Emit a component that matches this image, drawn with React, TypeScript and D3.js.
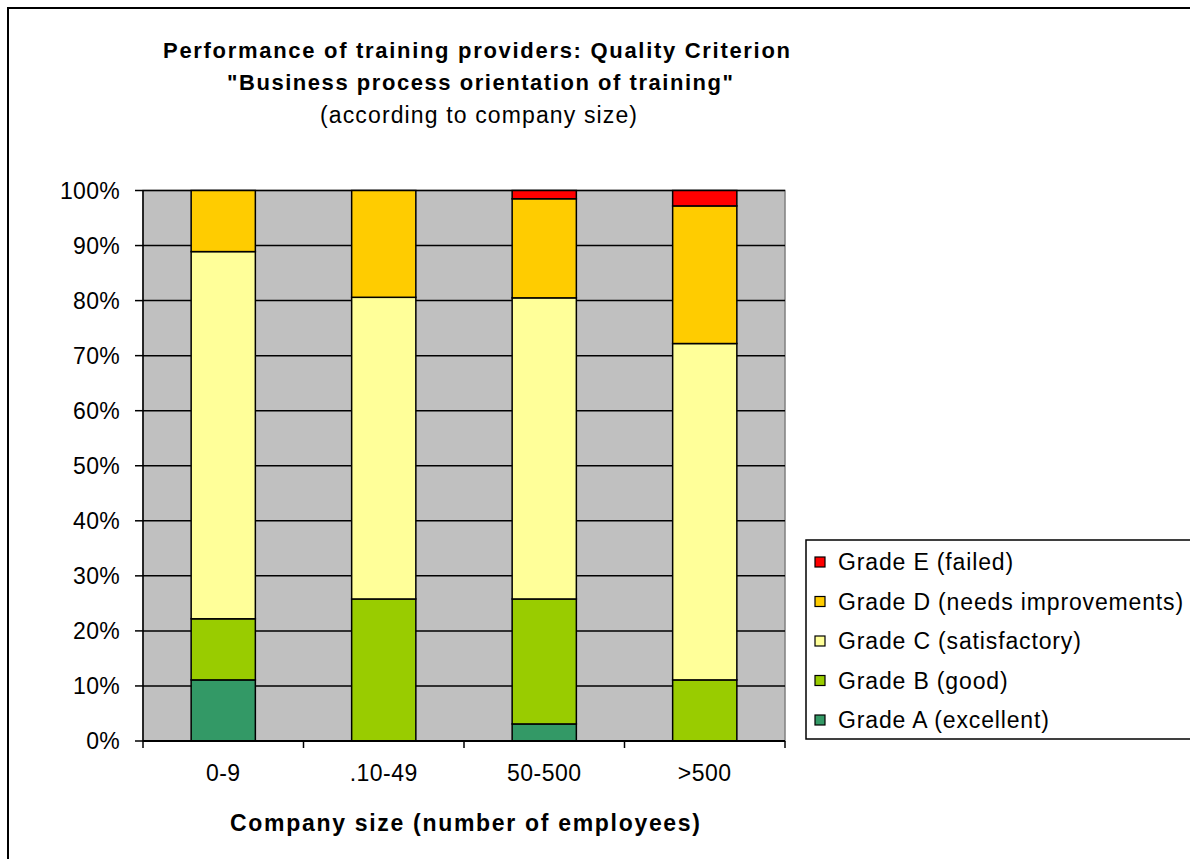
import React from "react";
import * as d3 from "d3";

const categories = ["0-9", ".10-49", "50-500", ">500"];
const gradeA = [11.1, 0, 3.1, 0];
const gradeB = [11.1, 25.8, 22.7, 11.1];
const gradeC = [66.7, 54.8, 54.7, 61.1];
const gradeD = [11.1, 19.4, 18.0, 25.0];
const gradeE = [0, 0, 1.5, 2.8];
const seriesNames = [
  "Grade A (excellent)",
  "Grade B (good)",
  "Grade C (satisfactory)",
  "Grade D (needs improvements)",
  "Grade E (failed)",
];
const seriesColors = ["#339966", "#99CC00", "#FFFF99", "#FFCC00", "#FF0000"];
const yTicks = [0, 10, 20, 30, 40, 50, 60, 70, 80, 90, 100];
const titleLines = [
  "Performance of training providers: Quality Criterion",
  '"Business process orientation of training"',
  "(according to company size)",
];
const xTitle = "Company size (number of employees)";

const FONT = "Arial, 'Liberation Sans', sans-serif";

export default function App() {
  const W = 1190;
  const H = 859;
  const left = 143;
  const right = 785;
  const top = 190.5;
  const bottom = 741;

  const x = d3.scaleBand<string>().domain(categories).range([left, right]).paddingInner(0.6).paddingOuter(0.3);
  const xb = d3.scaleBand<string>().domain(categories).range([left, right]).padding(0);
  const y = d3.scaleLinear().domain([0, 100]).range([bottom, top]);

  const rows = categories.map((c, i) => ({
    cat: c,
    s0: gradeA[i],
    s1: gradeB[i],
    s2: gradeC[i],
    s3: gradeD[i],
    s4: gradeE[i],
  }));
  const keys = ["s0", "s1", "s2", "s3", "s4"];
  const stacked = d3.stack<any>().keys(keys)(rows);

  const boundaries = categories.map((c) => xb(c) as number).concat([right]);

  const legendOrder = [4, 3, 2, 1, 0];
  const legendY0 = 562;
  const legendStep = 39.5;

  return (
    <svg
      width={W}
      height={H}
      style={{ position: "absolute", left: 0, top: 0, background: "#fff" }}
      fontFamily={FONT}
    >
      <rect x={8} y={8} width={1300} height={1000} fill="#fff" stroke="#000" strokeWidth={2} />

      {/* titles */}
      <text x={476.5} y={57.5} textAnchor="middle" fontSize={22} fontWeight="bold" textLength={627} lengthAdjust="spacing">{titleLines[0]}</text>
      <text x={480} y={90} textAnchor="middle" fontSize={22} fontWeight="bold" textLength={506} lengthAdjust="spacing">{titleLines[1]}</text>
      <text x={478.5} y={122.5} textAnchor="middle" fontSize={23} textLength={317} lengthAdjust="spacing">{titleLines[2]}</text>

      {/* plot area */}
      <rect x={left} y={top} width={right - left} height={bottom - top} fill="#C0C0C0" stroke="#808080" strokeWidth={1.5} />
      {yTicks.slice(1).map((t) => (
        <line key={"g" + t} x1={left} x2={right} y1={y(t)} y2={y(t)} stroke="#000" strokeWidth={1.5} />
      ))}

      {/* bars */}
      {stacked.map((layer, si) =>
        layer.map((d: any, ci: number) => {
          const h = y(d[0]) - y(d[1]);
          if (h <= 0.01) return null;
          return (
            <rect
              key={si + "-" + ci}
              x={x(categories[ci])}
              y={y(d[1])}
              width={x.bandwidth()}
              height={h}
              fill={seriesColors[si]}
              stroke="#000"
              strokeWidth={1.5}
            />
          );
        })
      )}

      {/* y axis */}
      <line x1={left} x2={left} y1={top} y2={bottom} stroke="#000" strokeWidth={1.5} />
      {yTicks.map((t) => (
        <g key={"t" + t}>
          <line x1={left - 8} x2={left} y1={y(t)} y2={y(t)} stroke="#000" strokeWidth={1.5} />
          <text x={120} y={y(t)} dy="0.36em" textAnchor="end" fontSize={23} letterSpacing={0.3}>{t + "%"}</text>
        </g>
      ))}

      {/* x axis */}
      <line x1={left} x2={right} y1={bottom} y2={bottom} stroke="#000" strokeWidth={2} />
      {boundaries.map((b, i) => (
        <line key={"xb" + i} x1={b} x2={b} y1={bottom} y2={bottom + 7} stroke="#000" strokeWidth={1.5} />
      ))}
      {categories.map((c) => (
        <text key={"xl" + c} x={(xb(c) as number) + xb.bandwidth() / 2} y={781} textAnchor="middle" fontSize={23} letterSpacing={0.5}>{c}</text>
      ))}
      <text x={465} y={831} textAnchor="middle" fontSize={23} fontWeight="bold" textLength={470} lengthAdjust="spacing">{xTitle}</text>

      {/* legend */}
      <rect x={806} y={540} width={500} height={199} fill="#fff" stroke="#000" strokeWidth={1.5} />
      {legendOrder.map((si, i) => (
        <g key={"lg" + si}>
          <rect x={815} y={legendY0 + i * legendStep - 5} width={10} height={10} fill={seriesColors[si]} stroke="#000" strokeWidth={1.2} />
          <text x={838} y={legendY0 + i * legendStep} dy="0.36em" fontSize={23} letterSpacing={0.85}>{seriesNames[si]}</text>
        </g>
      ))}
    </svg>
  );
}
